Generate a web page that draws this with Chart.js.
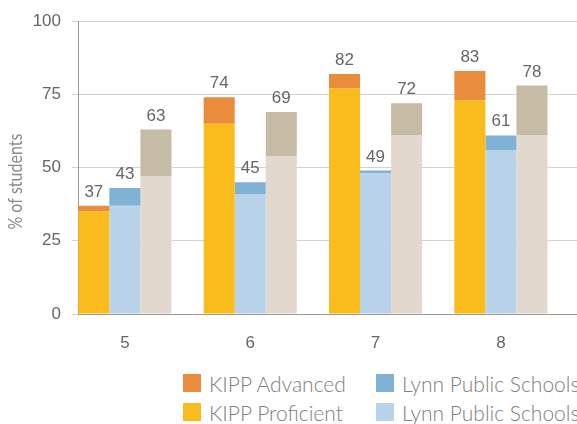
<!DOCTYPE html>
<html>
<head>
<meta charset="utf-8">
<script src="https://cdn.jsdelivr.net/npm/chart.js@4/dist/chart.umd.min.js"></script>
<style>
  html, body { margin: 0; padding: 0; background: #fff; overflow: hidden; }
  #wrap { position: relative; width: 577px; height: 424px; overflow: hidden; }
  #legend {
    position: absolute; left: 183px; top: 372px;
    display: flex; gap: 30px; white-space: nowrap;
    font-family: Lato, "Open Sans", sans-serif; font-weight: 300; font-size: 21px; color: #808080;
  }
  .col { display: flex; flex-direction: column; gap: 7px; }
  .item { display: flex; align-items: center; height: 22px; }
  .box { width: 18px; height: 18px; margin-right: 8px; flex: none; }
</style>
</head>
<body>
<div id="wrap">
  <canvas id="chart" width="577" height="360"></canvas>
  <div id="legend"></div>
</div>
<script>
// grades on the x axis
const grades = [5, 6, 7, 8];

// % of students, proficient + advanced per group
const kippProficient  = [35, 65, 77, 73];
const kippAdvanced    = [2, 9, 5, 10];
const lynnProficient  = [37, 41, 48, 56];
const lynnAdvanced    = [6, 4, 1, 5];
const stateProficient = [47, 54, 61, 61];
const stateAdvanced   = [16, 15, 11, 17];

const yTicks = [0, 25, 50, 75, 100];
const yTitle = '% of students';

const TEXT = '#666';
const NUM_FONT = '"Liberation Sans", Arial, sans-serif';
const pts = (arr) => arr.map((v, i) => ({ x: grades[i], y: v }));

const datasets = [
    { label: 'KIPP Proficient', data: pts(kippProficient), backgroundColor: '#FABC1C', stack: 'kipp' },
    { label: 'KIPP Advanced', data: pts(kippAdvanced), backgroundColor: '#E98C3B', stack: 'kipp' },
    { label: 'Lynn Public Schools Proficient', data: pts(lynnProficient), backgroundColor: '#B8D2EA', stack: 'lynn' },
    { label: 'Lynn Public Schools Advanced', data: pts(lynnAdvanced), backgroundColor: '#7FB2D5', stack: 'lynn' },
    { label: 'Massachusetts Proficient', data: pts(stateProficient), backgroundColor: '#E2D8CE', stack: 'state' },
    { label: 'Massachusetts Advanced', data: pts(stateAdvanced), backgroundColor: '#C6BBA4', stack: 'state' }
];

// totals written above each stack
const totalLabels = {
    id: 'totalLabels',
    afterDatasetsDraw(chart) {
        const ctx = chart.ctx;
        ctx.save();
        ctx.font = '17px ' + NUM_FONT;
        ctx.fillStyle = TEXT;
        ctx.textAlign = 'center';
        ctx.textBaseline = 'alphabetic';
        [1, 3, 5].forEach((top) => {
            const meta = chart.getDatasetMeta(top);
            meta.data.forEach((bar, i) => {
                const total = chart.data.datasets[top - 1].data[i].y + chart.data.datasets[top].data[i].y;
                ctx.fillText(String(total), bar.x, bar.y - 9);
            });
        });
        ctx.restore();
    }
};

// y title sits a little below the middle of the axis in the original, narrow face
const axisTitle = {
    id: 'axisTitle',
    afterDraw(chart) {
        const ctx = chart.ctx;
        const area = chart.chartArea;
        ctx.save();
        ctx.translate(16, (area.top + area.bottom) / 2 + 14);
        ctx.rotate(-Math.PI / 2);
        ctx.scale(0.8, 1);
        ctx.font = '400 20px Lato, "Open Sans", sans-serif';
        ctx.fillStyle = '#8a8a8a';
        ctx.textAlign = 'center';
        ctx.textBaseline = 'middle';
        ctx.fillText(yTitle, 0, 0);
        ctx.restore();
    }
};

new Chart(document.getElementById('chart').getContext('2d'), {
    type: 'bar',
    data: { datasets },
    plugins: [totalLabels, axisTitle],
    options: {
        responsive: false,
        animation: false,
        devicePixelRatio: 1,
        layout: { padding: { top: 16, right: 0, bottom: 0, left: 0 } },
        datasets: { bar: { categoryPercentage: 0.743, barPercentage: 1, borderWidth: 0 } },
        plugins: { legend: { display: false }, tooltip: { enabled: false } },
        scales: {
            x: {
                type: 'linear',
                offset: false,
                min: 4.626,
                max: 8.607,
                afterBuildTicks(scale) { scale.ticks = grades.map((g) => ({ value: g })); },
                afterFit(scale) { scale.height = 46; },
                grid: { display: false, drawTicks: false, offset: false },
                border: { display: true, color: '#999' },
                ticks: {
                    padding: 19,
                    color: TEXT,
                    font: { family: NUM_FONT, size: 17 }
                }
            },
            y: {
                stacked: true,
                min: 0,
                max: 100,
                afterBuildTicks(scale) { scale.ticks = yTicks.map((v) => ({ value: v })); },
                afterFit(scale) { scale.width = 78; },
                grid: { color: '#d2d2d2', tickLength: 6 },
                border: { color: '#999' },
                ticks: {
                    padding: 11,
                    color: TEXT,
                    font: { family: NUM_FONT, size: 17 }
                }
            }
        }
    }
});

// html legend: columns of advanced over proficient
const legend = document.getElementById('legend');
[[1, 0], [3, 2], [5, 4]].forEach((pair) => {
    const col = document.createElement('div');
    col.className = 'col';
    pair.forEach((idx) => {
        const ds = datasets[idx];
        const item = document.createElement('div');
        item.className = 'item';
        item.innerHTML = '<span class="box" style="background:' + ds.backgroundColor + '"></span>' + ds.label;
        col.appendChild(item);
    });
    legend.appendChild(col);
});
</script>
</body>
</html>
